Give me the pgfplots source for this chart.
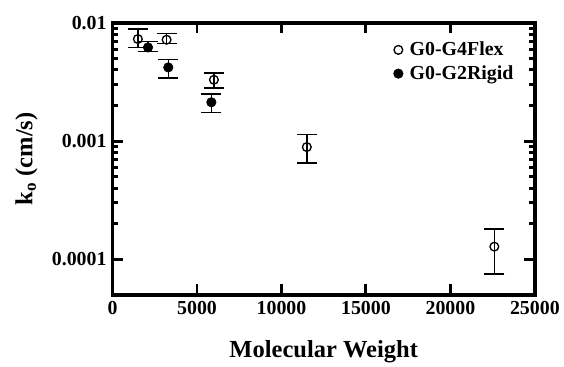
\documentclass[border=0pt]{standalone}
\usepackage{pgfplots}
\pgfplotsset{compat=1.18}
\usepackage{pgfplotstable}
\usepackage{fontspec}
\setmainfont{Liberation Serif}
\pgfplotstableread{
x y yp ym
1500 0.0073 0.0016 0.0011
3200 0.0072 0.0009 0.0005
6000 0.0033 0.00046 0.00048
11500 0.00089 0.00025 0.00024
22600 0.000128 0.000053 0.000053
}\flex
\pgfplotstableread{
x y yp ym
2100 0.0062 0.00075 0.00047
3300 0.0042 0.00072 0.00079
5850 0.00213 0.00038 0.00039
}\rigid
\begin{document}
\begin{tikzpicture}
\begin{axis}[
  scale only axis, width=319pt, height=205.5pt,
  xmin=0, xmax=25000, ymode=log, ymin=5e-5, ymax=0.01,
  scaled x ticks=false,
  axis line style={line width=2.6pt},
  tick style={black, line width=2.2pt},
  major tick length=8pt, minor tick length=4.5pt,
  tick align=inside,
  xtick={0,5000,10000,15000,20000,25000},
  xticklabels={0,5000,10000,15000,20000,25000},
  ytick={0.0001,0.001,0.01},
  yticklabels={0.0001,0.001,0.01},
  ticklabel style={font=\fontsize{15}{16}\selectfont\bfseries},
  xticklabel style={yshift=-1pt},
  yticklabel style={xshift=-1pt},
  xlabel={Molecular Weight},
  ylabel={k\textsubscript{o} (cm/s)},
  label style={font=\fontsize{18.5}{19}\selectfont\bfseries},
  xlabel style={yshift=-13pt},
  ylabel style={yshift=4pt},
  legend style={draw=none, fill=none, at={(0.975,0.95)}, anchor=north east,
    font=\fontsize{15}{16}\selectfont\bfseries, row sep=2pt,
    nodes={inner xsep=5pt}},
  legend cell align=left,
  clip=false,
]
\path (rel axis cs:0,0) coordinate (A) (rel axis cs:1,1) coordinate (B);
\addplot[only marks, mark=o, mark size=3.3pt, line width=1pt,
  error bars/.cd, y dir=both, y explicit, error mark options={rotate=90, mark size=7.5pt, line width=1.1pt},
  error bar style={line width=1.1pt}]
  table[x=x, y=y, y error plus=yp, y error minus=ym]{\flex};
\addlegendentry{G0-G4Flex}
\addplot[only marks, mark=*, mark size=3.6pt, fill=black,
  error bars/.cd, y dir=both, y explicit, error mark options={rotate=90, mark size=7.5pt, line width=1.1pt},
  error bar style={line width=1.1pt}]
  table[x=x, y=y, y error plus=yp, y error minus=ym]{\rigid};
\addlegendentry{G0-G2Rigid}
\end{axis}
\pgfresetboundingbox
\path ([shift={(-85pt,-54pt)}]A) rectangle ([shift={(22pt,17.25pt)}]B);
\end{tikzpicture}
\end{document}
